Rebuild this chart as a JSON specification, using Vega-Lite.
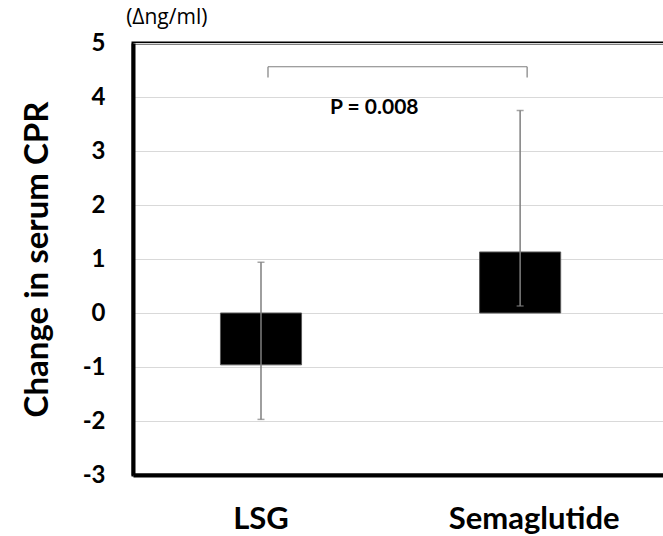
{
  "$schema": "https://vega.github.io/schema/vega-lite/v6.json",
  "width": 532,
  "height": 432,
  "autosize": "none",
  "padding": {"left": 133, "top": 43, "right": 0, "bottom": 61},
  "background": "white",
  "config": {
    "font": "Lato",
    "view": {"stroke": "black", "strokeWidth": 3}
  },
  "title": {"text": "(Δng/ml)", "anchor": "start", "fontSize": 21, "fontWeight": "normal", "font": "Open Sans", "dx": 105, "offset": 3, "color": "black"},
  "datasets": {
    "bars": [
      {"group": "LSG", "mean": -0.96, "lo": -1.97, "hi": 0.94},
      {"group": "Semaglutide", "mean": 1.13, "lo": 0.13, "hi": 3.75}
    ],
    "bracket": [{"from": "LSG", "to": "Semaglutide", "y": 4.56}],
    "ends": [
      {"group": "LSG", "y1": 4.56, "y2": 4.36},
      {"group": "Semaglutide", "y1": 4.56, "y2": 4.36}
    ],
    "label": [{"group": "LSG", "y": 3.8, "text": "P = 0.008"}]
  },
  "layer": [
    {
      "data": {"name": "bars"},
      "mark": {"type": "bar", "color": "black", "stroke": "#595959", "strokeWidth": 1},
      "encoding": {
        "x": {
          "field": "group", "type": "nominal", "sort": null, "title": null,
          "scale": {"paddingInner": 0.687, "paddingOuter": 0.37, "align": 0.456},
          "axis": {"labelAngle": 0, "labelFontSize": 31, "labelFontWeight": "bold", "labelColor": "black", "labelPadding": 29, "labelOffset": {"condition": {"test": "datum.value == 'Semaglutide'", "value": 14}, "value": 0}, "ticks": false, "domainColor": "black", "domainWidth": 4, "grid": false}
        },
        "y": {
          "field": "mean", "type": "quantitative", "title": "Change in serum CPR",
          "scale": {"domain": [-3, 5], "nice": false},
          "axis": {"values": [-3, -2, -1, 0, 1, 2, 3, 4, 5], "labelExpr": "datum.value < 0 ? '-' + abs(datum.value) : '' + datum.value", "labelFontSize": 24, "labelFontWeight": "bold", "labelColor": "black", "labelPadding": 28, "ticks": false, "domainColor": "black", "domainWidth": 4, "gridColor": "#d9d9d9", "gridWidth": 1, "titleFontSize": 33, "titleFontWeight": "bold", "titleColor": "black", "titlePadding": 28}
        }
      }
    },
    {
      "data": {"name": "bars"},
      "mark": {"type": "rule", "color": "#7f7f7f", "strokeWidth": 1.5},
      "encoding": {
        "x": {"field": "group", "type": "nominal", "sort": null},
        "y": {"field": "lo", "type": "quantitative"},
        "y2": {"field": "hi"}
      }
    },
    {
      "data": {"name": "bars"},
      "mark": {"type": "tick", "color": "#7f7f7f", "size": 7, "thickness": 1.5},
      "encoding": {
        "x": {"field": "group", "type": "nominal", "sort": null},
        "y": {"field": "lo", "type": "quantitative"}
      }
    },
    {
      "data": {"name": "bars"},
      "mark": {"type": "tick", "color": "#7f7f7f", "size": 7, "thickness": 1.5},
      "encoding": {
        "x": {"field": "group", "type": "nominal", "sort": null},
        "y": {"field": "hi", "type": "quantitative"}
      }
    },
    {
      "data": {"name": "bracket"},
      "mark": {"type": "rule", "color": "#7f7f7f", "strokeWidth": 1.2, "xOffset": 7, "x2Offset": 7},
      "encoding": {
        "x": {"field": "from", "type": "nominal", "sort": null},
        "x2": {"field": "to"},
        "y": {"field": "y", "type": "quantitative"}
      }
    },
    {
      "data": {"name": "ends"},
      "mark": {"type": "rule", "color": "#7f7f7f", "strokeWidth": 1.2, "xOffset": 7},
      "encoding": {
        "x": {"field": "group", "type": "nominal", "sort": null},
        "y": {"field": "y1", "type": "quantitative"},
        "y2": {"field": "y2"}
      }
    },
    {
      "data": {"name": "label"},
      "mark": {"type": "text", "align": "left", "dx": 69, "fontSize": 21, "fontWeight": "bold", "color": "black", "baseline": "middle"},
      "encoding": {
        "x": {"field": "group", "type": "nominal", "sort": null},
        "y": {"field": "y", "type": "quantitative"},
        "text": {"field": "text"}
      }
    }
  ]
}
